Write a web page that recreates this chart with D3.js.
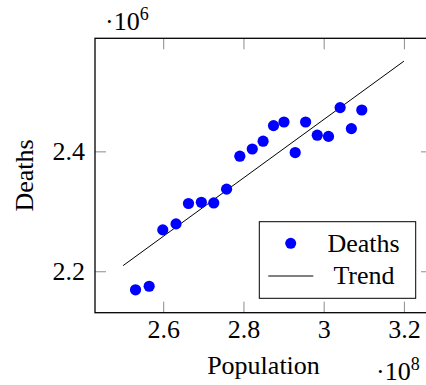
<!DOCTYPE html>
<html>
<head>
<meta charset="utf-8">
<script src="https://cdn.jsdelivr.net/npm/d3@7"></script>
<style>
  body { margin: 0; background: #fff; }
</style>
</head>
<body>
<script>
// population (x) and deaths (y)
var population = [2.531e8, 2.565e8, 2.599e8, 2.632e8, 2.663e8, 2.695e8, 2.726e8,
                  2.758e8, 2.791e8, 2.822e8, 2.849e8, 2.875e8, 2.901e8, 2.929e8,
                  2.955e8, 2.984e8, 3.012e8, 3.041e8, 3.069e8, 3.095e8];
var deaths = [2.169e6, 2.175e6, 2.269e6, 2.279e6, 2.313e6, 2.315e6, 2.314e6,
              2.337e6, 2.392e6, 2.404e6, 2.417e6, 2.443e6, 2.449e6, 2.398e6,
              2.449e6, 2.427e6, 2.425e6, 2.473e6, 2.438e6, 2.469e6];

// trend line end points
var trendX = [2.5e8, 3.2e8];
var trendY = [2.2094e6, 2.5505e6];

// ticks
var xTicks = [2.6e8, 2.8e8, 3.0e8, 3.2e8];
var xTickLabels = ["2.6", "2.8", "3", "3.2"];
var yTicks = [2.2e6, 2.4e6];
var yTickLabels = ["2.2", "2.4"];

var margin = {top: 38.3, left: 95},
    width = 337,
    height = 274.4;

var serif = "'Liberation Serif', 'Times New Roman', serif";
var fontSize = 26;

var svg = d3.select("body").append("svg")
    .attr("width", 426)
    .attr("height", 385);

var g = svg.append("g")
    .attr("transform", "translate(" + margin.left + "," + margin.top + ")");

// domains enlarged by 10% like pgfplots does
var allX = population.concat(trendX),
    allY = deaths.concat(trendY);
var xe = d3.extent(allX), ye = d3.extent(allY);
var xPad = (xe[1] - xe[0]) * 0.1, yPad = (ye[1] - ye[0]) * 0.1;

var x = d3.scaleLinear().domain([xe[0] - xPad, xe[1] + xPad]).range([0, width]);
var y = d3.scaleLinear().domain([ye[0] - yPad, ye[1] + yPad]).range([height, 0]);

// bottom axis
var bottom = g.append("g")
    .attr("transform", "translate(0," + height + ")")
    .call(d3.axisBottom(x).tickValues(xTicks).tickSize(-11)
        .tickFormat(function(d, i) { return xTickLabels[i]; }));
bottom.selectAll("text").attr("y", 25.6).attr("dy", 0);

// top axis, ticks only
g.append("g")
    .call(d3.axisTop(x).tickValues(xTicks).tickSize(-11).tickFormat(""));

// left axis
var left = g.append("g")
    .call(d3.axisLeft(y).tickValues(yTicks).tickSize(-11)
        .tickFormat(function(d, i) { return yTickLabels[i]; }));
left.selectAll("text").attr("x", -10).attr("dy", "0.32em");

// right axis, ticks only
g.append("g")
    .attr("transform", "translate(" + width + ",0)")
    .call(d3.axisRight(y).tickValues(yTicks).tickSize(-11).tickFormat(""));

g.selectAll("g").attr("font-family", null).attr("font-size", null);
g.selectAll(".domain").remove();
g.selectAll(".tick line").attr("stroke", "#8c8c8c").attr("stroke-width", 1);
g.selectAll(".tick text").attr("fill", "#000");

// frame
g.append("rect")
    .attr("width", width)
    .attr("height", height)
    .attr("fill", "none")
    .attr("stroke", "#000")
    .attr("stroke-width", 1.3);

// trend line
var line = d3.line()
    .x(function(d) { return x(d[0]); })
    .y(function(d) { return y(d[1]); });

g.append("path")
    .datum(d3.zip(trendX, trendY))
    .attr("d", line)
    .attr("fill", "none")
    .attr("stroke", "#000")
    .attr("stroke-width", 1);

// points
g.selectAll(".dot")
    .data(d3.zip(population, deaths))
    .enter().append("circle")
    .attr("class", "dot")
    .attr("cx", function(d) { return x(d[0]); })
    .attr("cy", function(d) { return y(d[1]); })
    .attr("r", 5.6)
    .attr("fill", "#0000ff");

// legend
var legend = svg.append("g");
legend.append("rect")
    .attr("x", 259.3).attr("y", 221.7)
    .attr("width", 156.4).attr("height", 76.6)
    .attr("fill", "#fff")
    .attr("stroke", "#000")
    .attr("stroke-width", 1);
legend.append("circle")
    .attr("cx", 290.7).attr("cy", 243.3)
    .attr("r", 5.5)
    .attr("fill", "#0000ff");
legend.append("line")
    .attr("x1", 268.3).attr("x2", 313.3)
    .attr("y1", 276).attr("y2", 276)
    .attr("stroke", "#000").attr("stroke-width", 1);
legend.append("text")
    .attr("x", 363.5).attr("y", 251.7)
    .attr("text-anchor", "middle")
    .text("Deaths");
legend.append("text")
    .attr("x", 364).attr("y", 284)
    .attr("text-anchor", "middle")
    .text("Trend");

// axis labels
svg.append("text")
    .attr("x", margin.left + width / 2)
    .attr("y", 374)
    .attr("text-anchor", "middle")
    .text("Population");

svg.append("text")
    .attr("transform", "translate(33," + (margin.top + height / 2) + ")rotate(-90)")
    .attr("text-anchor", "middle")
    .text("Deaths");

// scale factors
function expLabel(xPos, yPos, exp) {
    var t = svg.append("text")
        .attr("x", xPos).attr("y", yPos);
    t.append("tspan").text("\u00b710");
    t.append("tspan")
        .attr("dy", -10)
        .style("font-size", "18px")
        .text(exp);
}
expLabel(105, 30, "6");
expLabel(376, 380, "8");

// same serif face and size everywhere
svg.selectAll("text")
    .style("font-family", serif)
    .style("font-size", fontSize + "px")
    .attr("fill", "#000");
</script>
</body>
</html>
